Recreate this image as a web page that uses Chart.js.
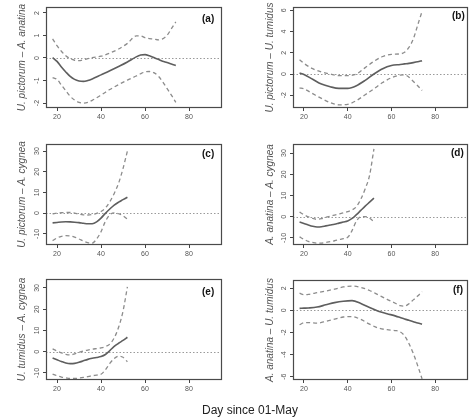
<!DOCTYPE html>
<html><head><meta charset="utf-8">
<script src="https://cdn.jsdelivr.net/npm/chart.js@4.4.0/dist/chart.umd.min.js"></script>
<style>
html,body{margin:0;padding:0;background:#fff;overflow:hidden;width:471px;height:419px}
.p{position:absolute}
.lab{position:absolute;font:bold 10px "Liberation Sans",Arial,sans-serif;color:#111;line-height:10px;white-space:nowrap}
#xt{position:absolute;left:202px;top:403px;font:12px "Liberation Sans",Arial,sans-serif;color:#222;white-space:nowrap}
</style></head><body>
<div class="p" style="left:0;top:0;width:225px;height:135px"><canvas id="ca"></canvas></div>
<div class="p" style="left:247px;top:0;width:224px;height:135px"><canvas id="cb"></canvas></div>
<div class="p" style="left:0;top:138px;width:225px;height:134px"><canvas id="cc"></canvas></div>
<div class="p" style="left:247px;top:138px;width:224px;height:134px"><canvas id="cd"></canvas></div>
<div class="p" style="left:0;top:273px;width:225px;height:134px"><canvas id="ce"></canvas></div>
<div class="p" style="left:247px;top:273px;width:224px;height:134px"><canvas id="cf"></canvas></div>
<div class="lab" style="left:202px;top:14px">(a)</div>
<div class="lab" style="left:452px;top:11px">(b)</div>
<div class="lab" style="left:202px;top:149px">(c)</div>
<div class="lab" style="left:451px;top:148px">(d)</div>
<div class="lab" style="left:202px;top:287px">(e)</div>
<div class="lab" style="left:453px;top:285px">(f)</div>
<div id="xt">Day since 01-May</div>
<script>
// ---- data ----
const xTicks = [20, 40, 60, 80];
const xRange = [15, 95];
const yTitles = ['U. pictorum – A. anatina', 'U. pictorum – U. tumidus', 'U. pictorum – A. cygnea',
                 'A. anatina – A. cygnea', 'U. tumidus – A. cygnea', 'A. anatina – U. tumidus'];

// (a)
const aDays  = [18,20,22,24,26,28,30,32,34,36,40,44,48,52,56,58,60,62,64,66,68,70,72,74];
const aFit   = [0.02,-0.15,-0.4,-0.62,-0.82,-0.95,-1.02,-1.04,-1.0,-0.93,-0.75,-0.57,-0.38,-0.18,0.05,0.13,0.15,0.1,0.02,-0.06,-0.14,-0.2,-0.27,-0.33];
const aUpper = [0.85,0.55,0.3,0.1,-0.03,-0.1,-0.12,-0.08,-0.03,0.02,0.08,0.22,0.4,0.65,0.98,0.98,0.9,0.86,0.84,0.8,0.85,1.0,1.3,1.6];
const aLower = [-0.87,-0.95,-1.2,-1.45,-1.7,-1.87,-1.97,-2.0,-1.97,-1.88,-1.65,-1.4,-1.18,-0.98,-0.8,-0.7,-0.62,-0.6,-0.65,-0.8,-1.05,-1.35,-1.65,-1.97];
const aYTicks = [-2,-1,0,1,2];
const aYRange = [-2.22, 2.26];

// (b)
const bDays  = [18,20,24,28,32,36,40,44,48,52,56,60,64,66,68,70,72,74];
const bFit   = [0.1,-0.05,-0.5,-0.95,-1.2,-1.35,-1.35,-1.1,-0.6,0.0,0.5,0.8,0.9,0.95,1.0,1.07,1.15,1.25];
const bUpper = [1.35,1.0,0.5,0.2,0.0,-0.15,-0.15,0.0,0.6,1.2,1.65,1.85,1.9,2.05,2.5,3.3,4.6,5.9];
const bLower = [-1.3,-1.4,-1.85,-2.3,-2.7,-2.9,-2.85,-2.5,-1.95,-1.4,-0.8,-0.35,-0.1,-0.08,-0.3,-0.7,-1.1,-1.55];
const bYTicks = [-2,0,2,4,6];
const bYRange = [-3.2, 6.3];

// (c)
const cDays  = [18,20,22,24,26,28,30,32,34,36,38,40,42,44,46,48,50,52];
const cFit   = [-4.7,-4.5,-4.3,-4.2,-4.25,-4.4,-4.6,-4.9,-5.15,-5.1,-4.2,-2.4,-0.1,2.0,3.9,5.3,6.5,7.7];
const cUpper = [-0.3,0.0,0.2,0.3,0.3,0.0,-0.5,-0.8,-0.9,-0.7,-0.1,0.8,2.5,5.5,9.5,14.5,21.5,30];
const cLower = [-13.3,-12,-11.2,-10.9,-11,-11.6,-12.5,-13.5,-14.3,-14.5,-12.5,-9,-4,-0.8,0.1,-0.3,-1.3,-2.9];
const cYTicks = [-10,0,10,20,30];
const cYRange = [-15.4, 33.4];

// (d)
const dDays  = [18,20,22,24,26,28,30,32,34,36,38,40,42,44,46,48,50,52];
const dFit   = [-2.5,-3.2,-3.9,-4.5,-4.8,-4.7,-4.3,-3.9,-3.5,-3.0,-2.5,-2.0,-0.8,1.0,3.0,5.0,6.9,8.8];
const dUpper = [2.2,1.0,0.0,-0.8,-1.2,-0.9,-0.3,0.3,0.8,1.3,1.8,2.4,3.2,4.8,8.3,13.2,19.5,32];
const dLower = [-9.5,-10.6,-11.6,-12.1,-12.4,-12.4,-12.1,-11.7,-11.3,-10.8,-10.3,-9.7,-6.5,-2.0,0.0,0.1,-0.7,-2.3];
const dYTicks = [-10,0,10,20,30];
const dYRange = [-13.3, 34.3];

// (e)
const eDays  = [18,20,22,24,26,28,30,32,34,36,38,40,42,44,46,48,50,52];
const eFit   = [-3.0,-3.8,-4.6,-5.3,-5.6,-5.5,-5.0,-4.3,-3.6,-3.1,-2.7,-2.3,-1.3,0.5,2.5,4.0,5.3,6.8];
const eUpper = [1.3,0.3,-0.5,-1.2,-1.5,-1.0,-0.3,0.3,0.8,1.2,1.5,1.8,2.4,3.6,6.5,11.5,19,30.5];
const eLower = [-10.5,-11.3,-11.9,-12.3,-12.6,-12.6,-12.4,-12.1,-11.7,-11.3,-11.0,-10.6,-8.5,-5.5,-3.2,-2.1,-2.6,-4.7];
const eYTicks = [-10,0,10,20,30];
const eYRange = [-13.3, 34.2];

// (f)
const fDays  = [18,20,22,26,30,34,38,42,46,50,54,58,62,64,66,68,70,72,74];
const fFit   = [0.18,0.2,0.22,0.3,0.5,0.7,0.83,0.88,0.62,0.25,-0.07,-0.3,-0.52,-0.65,-0.78,-0.9,-1.02,-1.15,-1.25];
const fUpper = [1.55,1.42,1.45,1.6,1.75,1.92,2.12,2.2,2.08,1.8,1.4,1.0,0.62,0.42,0.38,0.6,0.95,1.3,1.7];
const fLower = [-1.3,-1.12,-1.1,-1.15,-1.0,-0.8,-0.6,-0.56,-0.82,-1.25,-1.6,-1.75,-1.83,-1.95,-2.3,-3.0,-3.9,-5.0,-6.2];
const fYTicks = [-6,-4,-2,0,2];
const fYRange = [-6.3, 2.74];

const refValue = 0;

// ---- drawing ----
const TICK_FONT = {family: '"Liberation Sans", Arial, sans-serif', size: 7};
const mctx = document.createElement('canvas').getContext('2d');
mctx.font = '7px "Liberation Sans", Arial, sans-serif';

const boxPlugin = {
  id: 'box',
  beforeDatasetsDraw(chart) {
    const {ctx, chartArea: a, scales} = chart;
    const y = Math.round(scales.y.getPixelForValue(refValue)) + 0.5;
    ctx.save();
    ctx.strokeStyle = '#9a9a9a';
    ctx.lineWidth = 1;
    ctx.setLineDash([1.5, 2]);
    ctx.beginPath(); ctx.moveTo(a.left, y); ctx.lineTo(a.right, y); ctx.stroke();
    ctx.restore();
  },
  afterDraw(chart) {
    const {ctx, chartArea: a} = chart;
    ctx.save();
    ctx.strokeStyle = '#4a4a4a';
    ctx.lineWidth = 1.2;
    ctx.strokeRect(Math.round(a.left) + 0.5, Math.round(a.top) + 0.5, Math.round(a.right - a.left) - 1, Math.round(a.bottom - a.top) - 1);
    ctx.restore();
  }
};

function pts(days, vals) { return days.map((d, i) => ({x: d, y: vals[i]})); }

function makeChart(id, days, fit, upper, lower, yTicks, yRange, title, col) {
  const widest = Math.max(...yTicks.map(v => mctx.measureText(String(v)).width));
  const dashed = {borderColor: '#8c8c8c', borderWidth: 1.3, borderDash: [4, 3]};
  new Chart(document.getElementById(id), {
    type: 'line',
    data: {
      datasets: [
        Object.assign({data: pts(days, upper)}, dashed),
        Object.assign({data: pts(days, lower)}, dashed),
        {data: pts(days, fit), borderColor: '#5e5e5e', borderWidth: 1.6}
      ]
    },
    options: {
      responsive: true, maintainAspectRatio: false, animation: false,
      events: [],
      layout: {padding: {left: 0, right: 3, top: 6, bottom: 0}},
      elements: {point: {radius: 0}, line: {tension: 0.4, cubicInterpolationMode: 'monotone', fill: false}},
      plugins: {legend: {display: false}, tooltip: {enabled: false}},
      scales: {
        x: {
          type: 'linear', min: xRange[0], max: xRange[1],
          afterBuildTicks: s => { s.ticks = xTicks.map(v => ({value: v})); },
          afterFit: s => { s.height = 27; },
          grid: {drawOnChartArea: false, drawTicks: true, tickLength: 3, color: '#444', tickColor: '#444'},
          border: {display: false},
          ticks: {autoSkip: false, maxRotation: 0, font: TICK_FONT, color: '#555', padding: 2}
        },
        y: {
          type: 'linear', min: yRange[0], max: yRange[1],
          afterBuildTicks: s => { s.ticks = yTicks.map(v => ({value: v})); },
          afterFit: s => { s.width = 46; },
          grid: {drawOnChartArea: false, drawTicks: true, tickLength: 3, color: '#444', tickColor: '#444'},
          border: {display: false},
          ticks: {autoSkip: false, minRotation: 90, maxRotation: 90, crossAlign: 'center',
                  padding: 6 - widest / 2, font: TICK_FONT, color: '#555'},
          title: {display: true, text: title, color: '#555',
                  font: {family: '"Liberation Sans", Arial, sans-serif', size: 10, style: 'italic'},
                  padding: {top: col === 0 ? 16 : 17, bottom: 0}}
        }
      }
    },
    plugins: [boxPlugin]
  });
}

makeChart('ca', aDays, aFit, aUpper, aLower, aYTicks, aYRange, yTitles[0], 0);
makeChart('cb', bDays, bFit, bUpper, bLower, bYTicks, bYRange, yTitles[1], 1);
makeChart('cc', cDays, cFit, cUpper, cLower, cYTicks, cYRange, yTitles[2], 0);
makeChart('cd', dDays, dFit, dUpper, dLower, dYTicks, dYRange, yTitles[3], 1);
makeChart('ce', eDays, eFit, eUpper, eLower, eYTicks, eYRange, yTitles[4], 0);
makeChart('cf', fDays, fFit, fUpper, fLower, fYTicks, fYRange, yTitles[5], 1);
</script>
</body></html>
